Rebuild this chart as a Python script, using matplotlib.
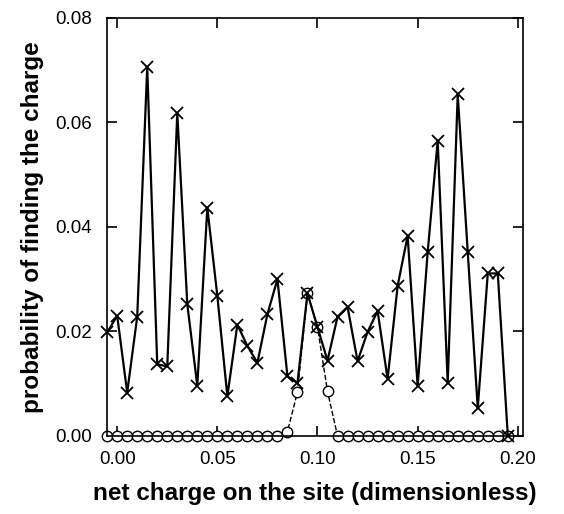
import numpy as np
from matplotlib import pyplot as plt

plt.rcParams['font.family'] = ['Liberation Sans', 'DejaVu Sans']

# net charge values (x)
charge = [-0.005, 0.000, 0.005, 0.010, 0.015, 0.020, 0.025, 0.030, 0.035, 0.040,
          0.045, 0.050, 0.055, 0.060, 0.065, 0.070, 0.075, 0.080, 0.085, 0.090,
          0.095, 0.100, 0.105, 0.110, 0.115, 0.120, 0.125, 0.130, 0.135, 0.140,
          0.145, 0.150, 0.155, 0.160, 0.165, 0.170, 0.175, 0.180, 0.185, 0.190,
          0.195]

# crosses, solid line
prob_x = [0.0198, 0.0230, 0.0083, 0.0228, 0.0706, 0.0137, 0.0133, 0.0618, 0.0252, 0.0096,
          0.0437, 0.0268, 0.0076, 0.0213, 0.0172, 0.0140, 0.0233, 0.0300, 0.0114, 0.0101,
          0.0273, 0.0208, 0.0144, 0.0228, 0.0247, 0.0143, 0.0199, 0.0239, 0.0109, 0.0287,
          0.0383, 0.0095, 0.0352, 0.0565, 0.0101, 0.0654, 0.0352, 0.0053, 0.0311, 0.0311,
          0.0000]

# circles, dashed line
prob_o = [0, 0, 0, 0, 0, 0, 0, 0, 0, 0,
          0, 0, 0, 0, 0, 0, 0, 0, 0.0008, 0.0084,
          0.0273, 0.0208, 0.0085, 0, 0, 0, 0, 0, 0, 0,
          0, 0, 0, 0, 0, 0, 0, 0, 0, 0,
          0]

xticks = [0.00, 0.05, 0.10, 0.15, 0.20]
yticks = [0.00, 0.02, 0.04, 0.06, 0.08]

fig = plt.figure(figsize=(5.64, 5.14), dpi=100)
ax = fig.add_axes([0.19, 0.152, 0.737, 0.813])

ax.plot(charge, prob_o, color='black', linestyle='--', linewidth=1.0,
        marker='o', markersize=7.5, markerfacecolor='white', markeredgewidth=1.0,
        clip_on=False, zorder=2)
ax.plot(charge, prob_x, color='black', linestyle='-', linewidth=1.6,
        marker='x', markersize=8, markeredgewidth=1.3, clip_on=False, zorder=3)

ax.set_xlim(-0.005, 0.2025)
ax.set_ylim(0, 0.08)
ax.set_xticks(xticks)
ax.set_xticklabels(['%.2f' % t for t in xticks])
ax.set_yticks(yticks)
ax.set_yticklabels(['%.2f' % t for t in yticks])
ax.tick_params(direction='in', length=7, width=1.2, labelsize=13.5,
               top=True, right=True, pad=11)
for s in ax.spines.values():
    s.set_linewidth(1.2)

ax.set_xlabel('net charge on the site (dimensionless)', fontsize=17.5,
              fontweight='bold', labelpad=10)
ax.set_ylabel('probability of finding the charge', fontsize=17.5,
              fontweight='bold', labelpad=8)

fig.savefig('out.png', dpi=100)
